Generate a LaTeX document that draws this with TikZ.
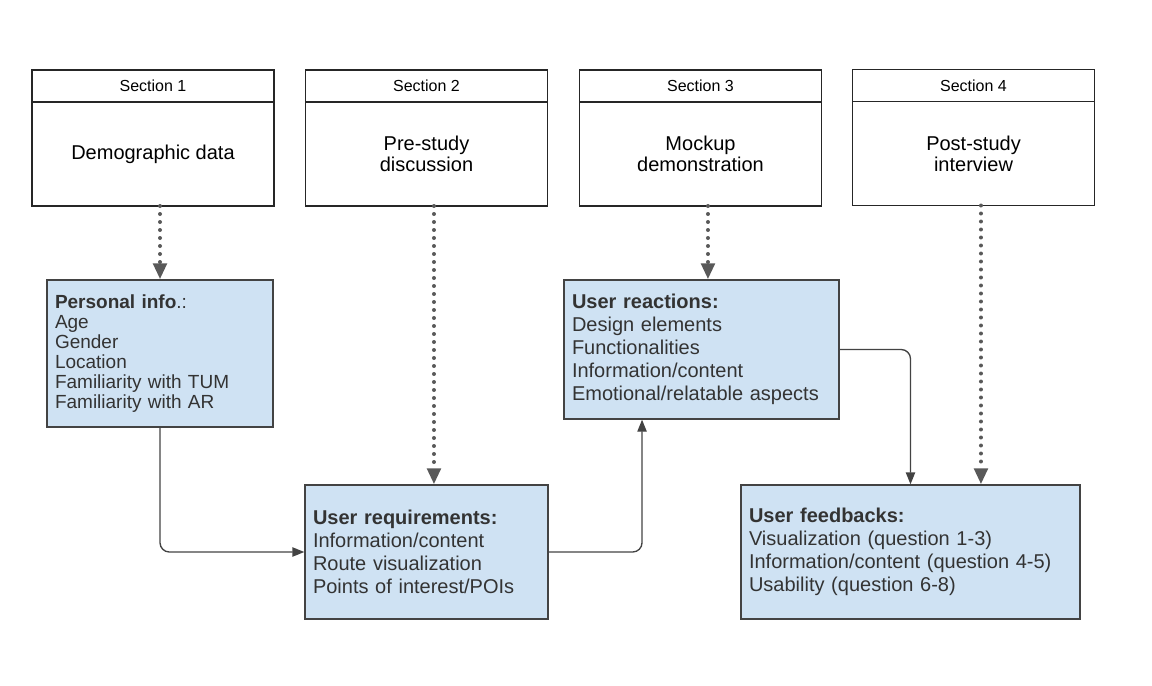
\documentclass[tikz,border=0pt]{standalone}
\usepackage{fontspec}
\setmainfont{Liberation Sans}
\usetikzlibrary{arrows.meta,positioning}
\definecolor{boxblue}{HTML}{CFE2F3}
\definecolor{linegray}{HTML}{434343}
\definecolor{dotgray}{HTML}{595959}
\definecolor{textgray}{HTML}{333333}
\begin{document}
\begin{tikzpicture}[x=0.75pt,y=-0.75pt,
    sechead/.style={rectangle,draw=black!85,line width=1pt,outer sep=0pt,inner sep=0pt,
        minimum width=181.5pt,minimum height=24pt,font=\fontsize{12}{14}\selectfont},
    secbody/.style={sechead,minimum height=78pt,align=center,
        font=\fontsize{15}{15.75}\selectfont},
    infobox/.style={rectangle,draw=linegray,line width=1pt,fill=boxblue,text=textgray,
        align=left,inner xsep=6pt,inner ysep=0pt,font=\fontsize{15}{17.25}\selectfont},
    dotarrow/.style={dotgray,line width=3pt,line cap=round,dash pattern=on 0pt off 6pt,
        -{Triangle[length=12pt,width=10pt]}},
    flowarrow/.style={linegray,line width=1pt,rounded corners=7pt,
        -{Triangle[length=9pt,width=7pt]}}]
  \useasboundingbox (0,0) rectangle (1152,685);

  % sections
  \node[sechead] (sec1h) at (153,86) {Section 1};
  \node[secbody,below=0pt of sec1h] (sec1b) {Demographic data};
  \node[sechead] (sec2h) at (426.5,86) {Section 2};
  \node[secbody,below=0pt of sec2h] (sec2b) {Pre-study\\discussion};
  \node[sechead] (sec3h) at (700.5,86) {Section 3};
  \node[secbody,below=0pt of sec3h] (sec3b) {Mockup\\demonstration};
  \node[sechead] (sec4h) at (973.5,85.5) {Section 4};
  \node[secbody,below=0pt of sec4h] (sec4b) {Post-study\\interview};

  % outcomes
  \node[infobox,text width=157.5pt,minimum height=110.25pt,
        font=\fontsize{14.25}{15}\selectfont] (pinfo) at (160,353.5)
    {\textbf{Personal info}.:\\Age\\Gender\\Location\\Familiarity with TUM\\Familiarity with AR};
  \node[infobox,text width=170.25pt,minimum height=100.5pt] (req) at (426.5,552)
    {\textbf{User requirements:}\\Information/content\\Route visualization\\Points of interest/POIs};
  \node[infobox,text width=194.25pt,minimum height=104.25pt] (react) at (701.5,349.5)
    {\textbf{User reactions:}\\Design elements\\Functionalities\\Information/content\\Emotional/relatable aspects};
  \node[infobox,text width=242.25pt,minimum height=100.5pt] (fb) at (910.5,552)
    {\textbf{User feedbacks:}\\Visualization (question 1-3)\\Information/content (question 4-5)\\Usability (question 6-8)};

  \draw[dotarrow] ([xshift=5.25pt]sec1b.south) -- (pinfo.north);
  \draw[dotarrow] ([xshift=5.6pt]sec2b.south) -- ([xshift=5.6pt]sec2b.south |- req.north);
  \draw[dotarrow] ([xshift=5.6pt]sec3b.south) -- ([xshift=5.6pt]sec3b.south |- react.north);
  \draw[dotarrow] ([xshift=5.6pt]sec4b.south) -- ([xshift=5.6pt]sec4b.south |- fb.north);

  \draw[flowarrow] (pinfo.south) |- (req.west);
  \draw[flowarrow] (req.east) -| ([xshift=-44.6pt]react.south);
  \draw[flowarrow] (react.east) -| (fb.north);
\end{tikzpicture}
\end{document}
